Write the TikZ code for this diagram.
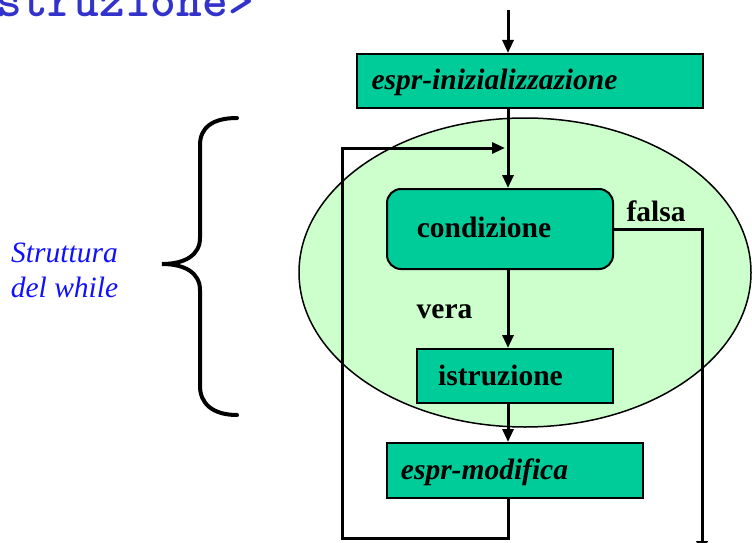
\documentclass[tikz,border=0pt]{standalone}
\usepackage{fontspec}
\setmainfont{Liberation Serif}
\usetikzlibrary{arrows.meta,shapes.geometric}
\definecolor{boxgreen}{HTML}{00CC99}
\definecolor{ellgreen}{HTML}{CCFFCC}
\definecolor{codeblue}{HTML}{3333CC}
\definecolor{noteblue}{HTML}{1010FF}
\tikzset{
  flowbox/.style={draw=black, line width=2pt, fill=boxgreen, rectangle, inner sep=0pt},
  flowtext/.style={anchor=base, inner sep=0pt, font=\fontsize{29.5}{35}\selectfont\bfseries},
  conn/.style={line width=3pt},
  arr/.style={conn, -{Triangle[length=13pt,width=11pt]}},
}
\begin{document}
\begin{tikzpicture}[x=1pt,y=-1pt]
\useasboundingbox (0,0) rectangle (752,543);
% title fragment (partly outside the page, as in the reference)
\node[anchor=base east, inner sep=0pt, text=codeblue, font=\ttfamily\bfseries\fontsize{49}{55}\selectfont] (title) at (254,16.5) {<istruzione>};
% ellipse
\node[draw=black, line width=1.5pt, fill=ellgreen, ellipse, minimum width=452pt, minimum height=309pt, inner sep=0pt] (ell) at (525,272.5) {};
% coordinates
\coordinate (top) at (508,10);
\coordinate (loopBL) at (342,538);
\coordinate (loopTL) at (342,148);
\coordinate (loopin) at (505,148);
\coordinate (exitR) at (702,229);
\coordinate (exitEnd) at (702,554);
% boxes
\node[flowbox, minimum width=346pt, minimum height=54pt] (init) at (530,81) {};
\node[flowbox, rounded corners=14pt, minimum width=226pt, minimum height=80pt] (cond) at (500,229) {};
\node[flowbox, minimum width=196pt, minimum height=54pt] (istr) at (515,376) {};
\node[flowbox, minimum width=256pt, minimum height=55pt] (mod) at (515,470.5) {};
% connectors
\draw[arr] (top) -- (top |- init.north);
\draw[arr] (top |- init.south) -- (top |- cond.north);
\draw[arr] (top |- cond.south) -- (top |- istr.north);
\draw[arr] (top |- istr.south) -- (top |- mod.north);
\draw[arr] (top |- mod.south) -- (top |- loopBL) -- (loopBL) -- (loopTL) -- (loopin);
\draw[arr] (cond.east |- exitR) -- (exitR) -- (exitEnd);
% texts
\node[flowtext, font=\fontsize{29.5}{35}\selectfont\bfseries\itshape] (tinit) at (494.5,89) {espr-inizializzazione};
\node[flowtext] (tcond) at (484,237) {condizione};
\node[flowtext] (tistr) at (500.5,385) {istruzione};
\node[flowtext, font=\fontsize{29.5}{35}\selectfont\bfseries\itshape] (tmod) at (484.5,479) {espr-modifica};
\node[flowtext] (tfalsa) at (656,221) {falsa};
\node[flowtext] (tvera) at (444.5,318) {vera};
% brace
\draw[line width=4pt, line cap=round] (237,118) .. controls (212,118) and (200,128) .. (200,145)
  -- (200,238) .. controls (200,255) and (185,264) .. (162,264)
  .. controls (185,264) and (200,273) .. (200,290)
  -- (200,386) .. controls (200,403) and (212,415) .. (237,415);
\node[anchor=base, inner sep=0pt, text=noteblue, font=\fontsize{29.5}{35}\selectfont\itshape] (note1) at (64.5,262) {Struttura};
\node[anchor=base, inner sep=0pt, text=noteblue, font=\fontsize{29.5}{35}\selectfont\itshape] (note2) at (64.5,297) {del while};
\end{tikzpicture}
\end{document}
